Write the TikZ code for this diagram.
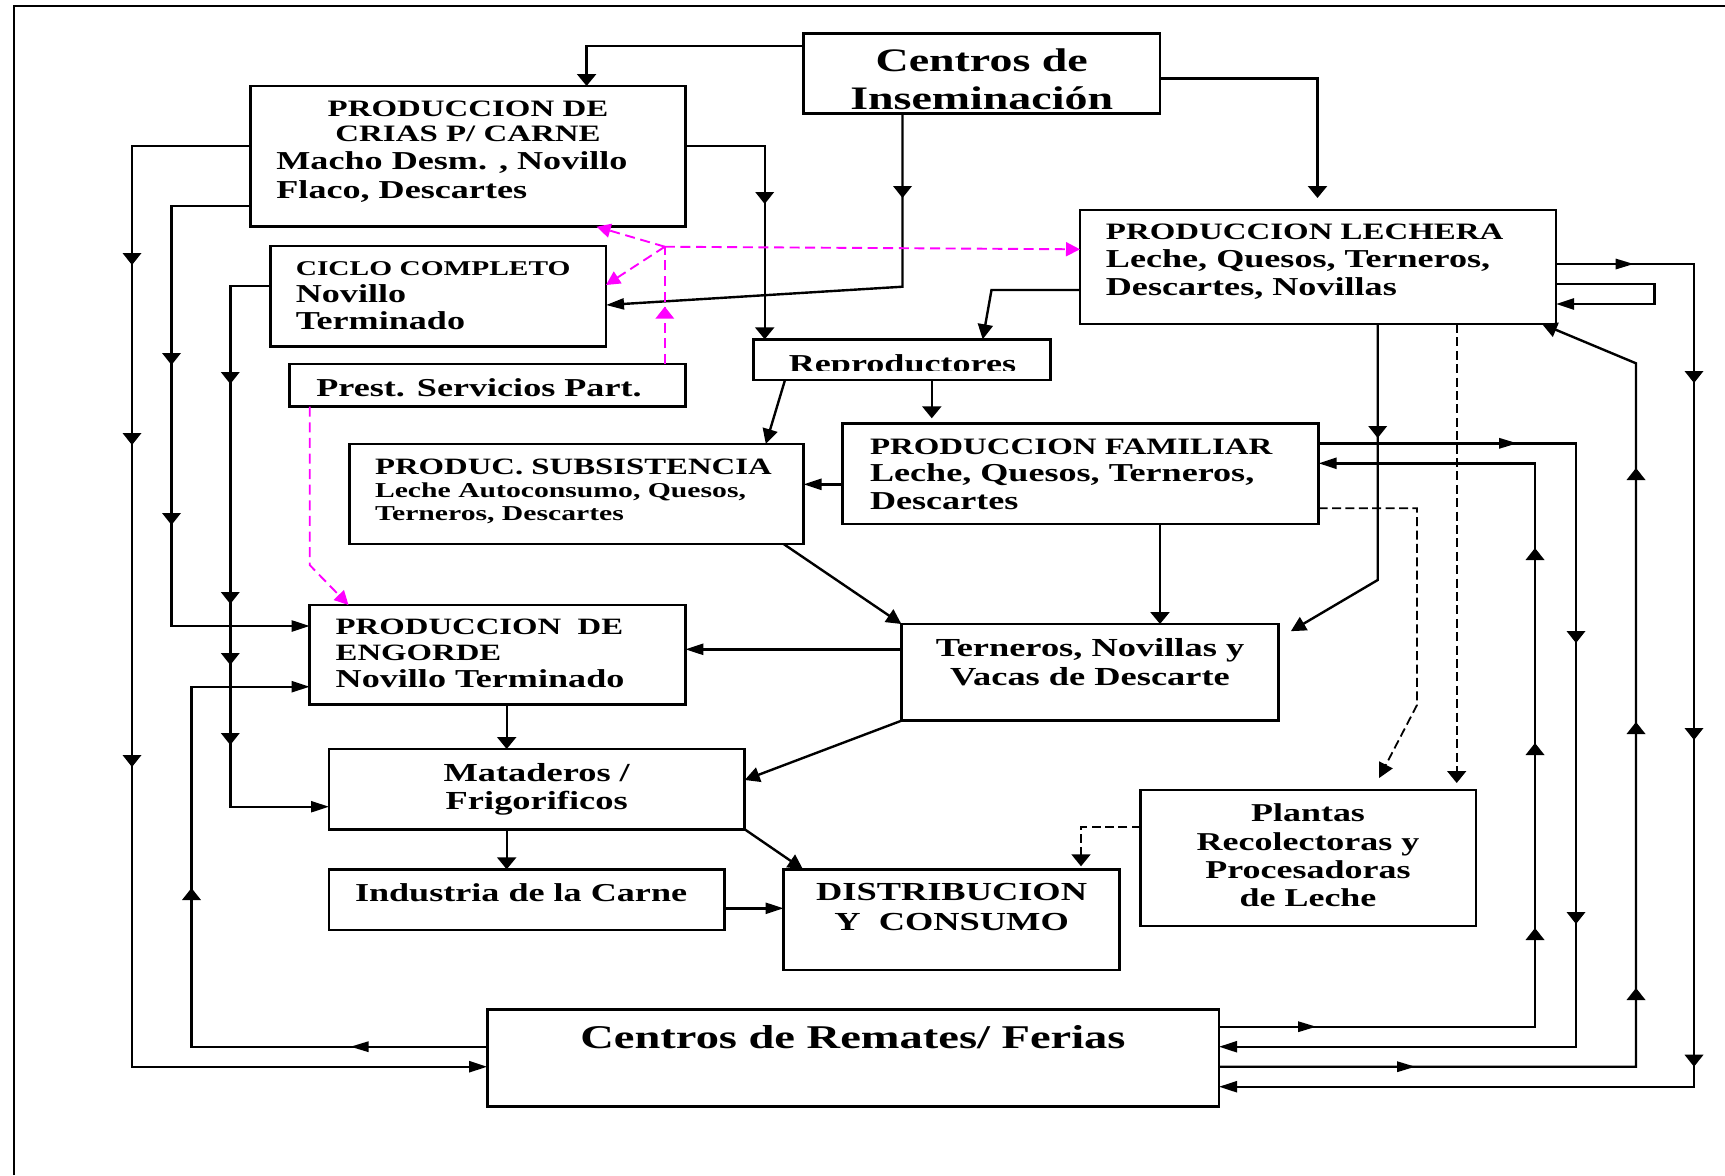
\documentclass[tikz,border=0pt]{standalone}
\usepackage{fontspec}
\setmainfont{Liberation Serif}[FakeStretch=1.4]
\usetikzlibrary{arrows.meta}
\definecolor{mag}{RGB}{255,0,255}
% font size + bold
\newcommand\fsz[2]{\fontsize{#1pt}{#2pt}\selectfont\bfseries}
% stacked lines, baseline = first line
\newcommand\stkc[1]{\vtop{\lineskiplimit=-50pt\let\\\cr\halign{\hfil##\hfil\cr#1\crcr}}}
\newcommand\stkl[1]{\vtop{\lineskiplimit=-50pt\let\\\cr\halign{##\hfil\cr#1\crcr}}}
% arrow heads placed along a line (tip position)
\newcommand\mkD[2]{\fill (#1,#2) -- ++(-9.5,-12) -- ++(19,0) -- cycle;}
\newcommand\mkU[2]{\fill (#1,#2) -- ++(-9.5,12) -- ++(19,0) -- cycle;}
\newcommand\mkR[2]{\fill (#1,#2) -- ++(-18,-5.5) -- ++(0,11) -- cycle;}
\newcommand\mkL[2]{\fill (#1,#2) -- ++(18,-5.5) -- ++(0,11) -- cycle;}
% box from left, top, right, bottom
\newcommand\bx[5]{\node[box, minimum width={(#4-#2)*0.5pt}, minimum height={(#5-#3)*0.5pt}] (#1) at ({(#2+#4)/2},{(#3+#5)/2}) {};}
\begin{document}
\begin{tikzpicture}[x=0.5pt,y=-0.5pt,
  box/.style={draw, line width=1.35pt, inner sep=0pt, outer sep=0pt},
  txt/.style={inner sep=0pt, outer sep=0pt},
  ln/.style={line width=1.2pt},
  dsh/.style={line width=0.9pt, dash pattern=on 4.5pt off 2.2pt},
  mg/.style={draw=mag, line width=0.95pt, dash pattern=on 5pt off 2.8pt},
  av/.style={-{Triangle[length=6pt,width=9.5pt]}},
  ah/.style={-{Triangle[length=9pt,width=5.5pt]}},
  adg/.style={-{Triangle[length=7.5pt,width=7.5pt]}},
  amg/.style={-{Triangle[length=7pt,width=7pt]}, mag},
]
\fill[white] (0,0) rectangle (1725,1175);
\useasboundingbox (0,0) rectangle (1725,1175);
\draw[line width=0.9pt] (13.9,1175) -- (13.9,6) -- (1725,6);

% boxes
\bx{cins}{803.5}{33.3}{1160}{113.3}
\bx{crias}{250.8}{86}{685.3}{226.7}
\bx{ciclo}{270.3}{246}{606}{346.7}
\bx{prest}{289.7}{364}{685.3}{406.7}
\bx{repro}{753.6}{339.3}{1050.6}{380}
\bx{lechera}{1080}{210}{1556}{324}
\bx{familiar}{842.7}{423.3}{1318.6}{524}
\bx{subs}{349.6}{444}{803.5}{544}
\bx{engorde}{309.7}{605}{685.3}{704.3}
\bx{terneros}{901.4}{624}{1278.8}{720.7}
\bx{mataderos}{329}{749}{744.7}{829.3}
\bx{industria}{329}{869.3}{724.2}{930}
\bx{distrib}{783.6}{869.3}{1119.7}{970}
\bx{plantas}{1140.7}{790}{1476}{926}
\bx{remates}{487.2}{1009.3}{1219}{1106.7}

% texts
\begin{scope}
  \clip (cins.north west) rectangle (1160,109.5);
  \node[txt, anchor=base, font=\fsz{16.4}{19}] (cinsT) at (981.7,71.7) {\stkc{Centros de\\Inseminación}};
\end{scope}
\begin{scope}
  \clip (repro.north west) rectangle (1050.6,370.5);
  \node[txt, anchor=base, font=\fsz{12.9}{14}] (reproT) at (902.5,372.7) {Reproductores};
\end{scope}
\node[txt, anchor=base, font=\fsz{11.75}{12.85}] (criasT) at (468,116) {\stkc{PRODUCCION DE\\CRIAS P/ CARNE}};
\node[txt, anchor=base west, font=\fsz{12.9}{14.5}] (criasB) at (276.4,169.3) {\stkl{Macho Desm. , Novillo\\Flaco, Descartes}};
\node[txt, anchor=base west, font=\fsz{12.9}{13.6}] (cicloT) at (295.8,275) {\stkl{{\fsz{10.5}{13}CICLO COMPLETO}\\Novillo\\Terminado}};
\node[txt, anchor=base west, font=\fsz{12.9}{14}] (prestT) at (316.3,396) {Prest. Servicios Part.};
\node[txt, anchor=base west, font=\fsz{12.9}{14.15}] (lecheraT) at (1105.9,239.3) {\stkl{{\fsz{11.75}{13}PRODUCCION LECHERA}\\Leche, Quesos, Terneros,\\Descartes, Novillas}};
\node[txt, anchor=base west, font=\fsz{12.9}{13.9}] (familiarT) at (870,454) {\stkl{{\fsz{11.75}{13}PRODUCCION FAMILIAR}\\Leche, Quesos, Terneros,\\Descartes}};
\node[txt, anchor=base west, font=\fsz{10.6}{11.7}] (subsT) at (375,474) {\stkl{{\fsz{11.7}{13}PRODUC. SUBSISTENCIA}\\Leche Autoconsumo, Quesos,\\Terneros, Descartes}};
\node[txt, anchor=base west, font=\fsz{12.9}{13.3}] (engordeT) at (335.7,634) {\stkl{{\fsz{11.7}{13}PRODUCCION~~DE}\\{\fsz{11.7}{13}ENGORDE}\\Novillo Terminado}};
\node[txt, anchor=base, font=\fsz{13}{13.8}] (matT) at (536.7,781.7) {\stkc{Mataderos /\\Frigorificos}};
\node[txt, anchor=base west, font=\fsz{12.9}{14}] (indT) at (355,901.7) {Industria de la Carne};
\node[txt, anchor=base, font=\fsz{13}{14.65}] (distT) at (951.6,900.7) {\stkc{DISTRIBUCION\\Y~~CONSUMO}};
\node[txt, anchor=base, font=\fsz{13}{14.5}] (ternT) at (1090,656) {\stkc{Terneros, Novillas y\\Vacas de Descarte}};
\node[txt, anchor=base, font=\fsz{12.85}{14.15}] (plantT) at (1308,821.7) {\stkc{Plantas\\Recolectoras y\\Procesadoras\\de Leche}};
\node[txt, anchor=base, font=\fsz{16.6}{18}] (remT) at (853,1048.3) {Centros de Remates/ Ferias};

% Centros de Inseminacion
\draw[ln,av] (cins.west |- 0,46) -| (crias.north -| 586.6,0);
\draw[ln,av,shorten >=6pt] (cins.east |- 0,78.3) -| (lechera.north -| 1317.5,0);
\draw[ln,ah] (cins.south -| 902.5,0) -- (902.5,286.7) -- (ciclo.east |- 0,305);
\mkD{902.5}{198}

% Produccion de crias
\draw[ln,ah] (crias.west |- 0,146) -| (132,1066.7) -- (remates.west |- 0,1066.7);
\mkD{132}{265} \mkD{132}{445} \mkD{132}{767}
\draw[ln,ah] (crias.west |- 0,206) -| (171.5,626) -- (engorde.west |- 0,626);
\mkD{171.5}{365} \mkD{171.5}{525}
\draw[ln,av] (crias.east |- 0,146) -| (repro.north -| 764.7,0);
\mkD{764.7}{204}

% Ciclo completo
\draw[ln,ah] (ciclo.west |- 0,286) -| (230.3,806.7) -- (mataderos.west |- 0,806.7);
\mkD{230.3}{384} \mkD{230.3}{604} \mkD{230.3}{665} \mkD{230.3}{745}

% Prestacion de servicios (magenta)
\coordinate (hub) at (664.8,246.7);
\draw[mg] (prest.north -| hub) -- (hub);
\begin{scope}[mag] \mkU{664.8}{306.7} \end{scope}
\draw[mg,amg] (hub) -- (crias.south -| 596.6,0);
\draw[mg,amg] (hub) -- (ciclo.east |- 0,285);
\draw[mg,amg] (hub) -- (lechera.west |- 0,249.3);
\draw[mg,amg] (prest.south -| 309.7,0) -- (309.7,565) -- (engorde.north -| 348.5,0);

% Reproductores
\draw[ln,adg] (repro.south -| 785,0) -- (subs.north -| 765.8,0);
\draw[ln,av,shorten >=2.5pt] (repro.south -| 931.8,0) -- (familiar.north -| 931.8,0);

% Produccion lechera
\draw[ln,adg] (lechera.west |- 0,290) -- (991.5,290) -- (repro.north -| 982.7,0);
\draw[ln,ah] (lechera.east |- 0,264) -| (1694,1086.7) -- (remates.east |- 0,1086.7);
\mkR{1633.5}{264} \mkD{1694}{383} \mkD{1694}{740} \mkD{1694}{1066.7}
\draw[ln,ah] (lechera.east |- 0,284) -- (1654.5,284) -- (1654.5,304) -- (lechera.east |- 0,304);
\draw[ln,adg,shorten >=7pt] (lechera.south -| 1377.7,0) -- (1377.7,580) -- (terneros.east |- 0,638.3);
\mkD{1377.7}{438}
\draw[dsh,av,shorten >=3.5pt] (lechera.south -| 1456.7,0) -- (plantas.north -| 1456.7,0);
\draw[ln,adg] (remates.east |- 0,1066.7) -| (1636,363.3) -- (lechera.south -| 1542,0);
\mkR{1415}{1066.7} \mkU{1636}{988} \mkU{1636}{722} \mkU{1636}{468}

% Produccion familiar
\draw[ln,ah] (familiar.east |- 0,443.3) -| (1576,1046.7) -- (remates.east |- 0,1046.7);
\mkR{1517}{443.3} \mkD{1576}{643} \mkD{1576}{924}
\draw[ln,ah] (remates.east |- 0,1026.7) -| (1535,463.3) -- (familiar.east |- 0,463.3);
\mkR{1316}{1026.7} \mkU{1535}{928} \mkU{1535}{743} \mkU{1535}{548}
\draw[dsh,adg,shorten >=6.7pt] (familiar.east |- 0,508.3) -- (1417,508.3) -- (1417,705) -- (plantas.north -| 1372.8,0);
\draw[ln,ah] (familiar.west |- 0,484.3) -- (subs.east |- 0,484.3);
\draw[ln,av] (familiar.south -| 1160,0) -- (terneros.north -| 1160,0);

% Subsistencia, terneros, engorde, mataderos
\draw[ln,adg] (subs.south -| 783.6,0) -- (terneros.north west);
\draw[ln,ah] (terneros.west |- 0,649.3) -- (engorde.east |- 0,649.3);
\draw[ln,adg] (terneros.south west) -- (mataderos.east |- 0,780);
\draw[ln,av] (engorde.south -| 506.7,0) -- (mataderos.north -| 506.7,0);
\draw[ln,av] (mataderos.south -| 506.7,0) -- (industria.north -| 506.7,0);
\draw[ln,adg] (mataderos.south east) -- (distrib.north -| 803,0);
\draw[ln,ah] (industria.east |- 0,908.3) -- (distrib.west |- 0,908.3);
\draw[dsh,av,shorten >=1.5pt] (plantas.west |- 0,826.7) -| (distrib.north -| 1081,0);

% Centros de remates back to engorde
\draw[ln,ah] (remates.west |- 0,1046.7) -| (191.5,686.7) -- (engorde.west |- 0,686.7);
\mkL{350.7}{1046.7} \mkU{191.5}{888}
\end{tikzpicture}
\end{document}
